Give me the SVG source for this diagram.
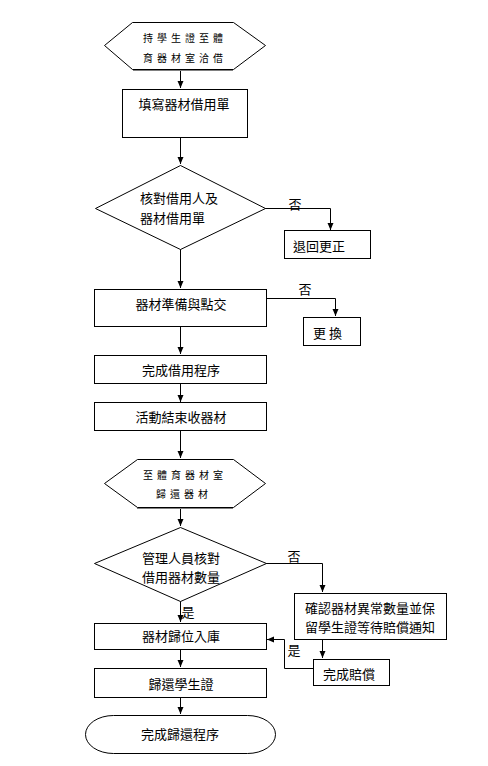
<svg xmlns="http://www.w3.org/2000/svg" width="488" height="766" viewBox="0 0 488 766">
<defs>
<marker id="ah" markerUnits="userSpaceOnUse" markerWidth="8" markerHeight="8" refX="7" refY="3" orient="auto">
<path d="M0,0 L7,3 L0,6 z" fill="#000"/>
</marker>
<style>
.s{fill:#fff;stroke:#000;stroke-width:1}
.sh{fill:none;stroke:#808080;stroke-width:2}
.c{fill:none;stroke:#000;stroke-width:1;marker-end:url(#ah)}
.t{font-family:"Noto Sans CJK TC","Noto Sans CJK SC",sans-serif;font-size:13px;fill:#000;dominant-baseline:central}
.m{text-anchor:middle}
.h{font-family:"Noto Sans CJK TC","Noto Sans CJK SC",sans-serif;font-size:10px;letter-spacing:4px;fill:#000;text-anchor:middle;dominant-baseline:central}
</style>
</defs>
<rect width="488" height="766" fill="#fff"/>
<g id="connectors">
<path class="c" d="M180.5,70 V88"/>
<path class="c" d="M180.5,137 V164"/>
<path class="c" d="M265,208.5 H330.5 V230"/>
<path class="c" d="M180.5,249 V288"/>
<path class="c" d="M266,298.5 H335.5 V316"/>
<path class="c" d="M180.5,326 V354"/>
<path class="c" d="M180.5,383 V402"/>
<path class="c" d="M180.5,431 V458"/>
<path class="c" d="M180.5,507 V526"/>
<path class="c" d="M266,563.5 H322.5 V592"/>
<path class="c" d="M180.5,601 V622"/>
<path class="c" d="M322.5,640 V658"/>
<path class="c" d="M313,668.5 H284.5 V639.5 H267"/>
<path class="c" d="M180.5,649 V667"/>
<path class="c" d="M180.5,697 V714"/>
<text class="t m" x="295" y="203">否</text>
<text class="t m" x="305" y="288">否</text>
<text class="t m" x="294" y="555">否</text>
<text class="t m" x="188" y="611">是</text>
<text class="t m" x="294" y="649">是</text>
</g>
<g id="start">
<path class="sh" d="M133,70 H233"/>
<path class="s" d="M104.5,45.5 L132.5,22.5 H233.5 L265.5,45.5 L233.5,69.5 H132.5 Z"/>
<text class="h" x="185" y="37">持學生證至體</text>
<text class="h" x="185" y="57">育器材室洽借</text>
</g>
<g id="fill-form">
<rect class="s" x="122.5" y="89.5" width="125" height="48"/>
<text class="t m" x="184" y="103">填寫器材借用單</text>
</g>
<g id="check-borrower">
<path class="s" d="M180.5,165.5 L265.5,208.5 L180.5,249.5 L95.5,208.5 Z"/>
<text class="t" x="140" y="197">核對借用人及</text>
<text class="t" x="140" y="217">器材借用單</text>
</g>
<g id="return-correct">
<rect class="s" x="284.5" y="230.5" width="86" height="28"/>
<text class="t" x="293" y="245">退回更正</text>
</g>
<g id="prepare">
<rect class="s" x="94.5" y="289.5" width="172" height="37"/>
<text class="t m" x="181" y="303">器材準備與點交</text>
</g>
<g id="replace">
<rect class="s" x="303.5" y="317.5" width="57" height="28"/>
<text class="t" x="313" y="332">更 換</text>
</g>
<g id="finish-borrow">
<rect class="s" x="94.5" y="355.5" width="172" height="28"/>
<text class="t m" x="181" y="369">完成借用程序</text>
</g>
<g id="collect">
<rect class="s" x="94.5" y="402.5" width="172" height="28"/>
<text class="t m" x="181" y="416">活動結束收器材</text>
</g>
<g id="return-room">
<path class="sh" d="M137,508 H233"/>
<path class="s" d="M104.5,483.5 L137.5,459.5 H233.5 L265.5,483.5 L233.5,507.5 H137.5 Z"/>
<text class="h" x="185" y="474">至體育器材室</text>
<text class="h" x="184" y="493">歸還器材</text>
</g>
<g id="check-quantity">
<path class="s" d="M180.5,527.5 L266.5,563.5 L180.5,601.5 L94.5,563.5 Z"/>
<text class="t" x="142" y="557">管理人員核對</text>
<text class="t" x="142" y="576">借用器材數量</text>
</g>
<g id="confirm-abnormal">
<rect class="s" x="294.5" y="593.5" width="152" height="46"/>
<text class="t" x="305" y="607">確認器材異常數量並保</text>
<text class="t" x="305" y="626">留學生證等待賠償通知</text>
</g>
<g id="store">
<rect class="s" x="94.5" y="623.5" width="172" height="26"/>
<text class="t m" x="181" y="635">器材歸位入庫</text>
</g>
<g id="compensated">
<rect class="s" x="313.5" y="659.5" width="76" height="26"/>
<text class="t" x="323" y="673">完成賠償</text>
</g>
<g id="return-id">
<rect class="s" x="94.5" y="668.5" width="172" height="29"/>
<text class="t m" x="181" y="683">歸還學生證</text>
</g>
<g id="end">
<path class="s" d="M113.5,715.5 H247.5 A28,19 0 0 1 247.5,753.5 H113.5 A28,19 0 0 1 113.5,715.5 Z"/>
<text class="t m" x="180" y="733">完成歸還程序</text>
</g>
</svg>
